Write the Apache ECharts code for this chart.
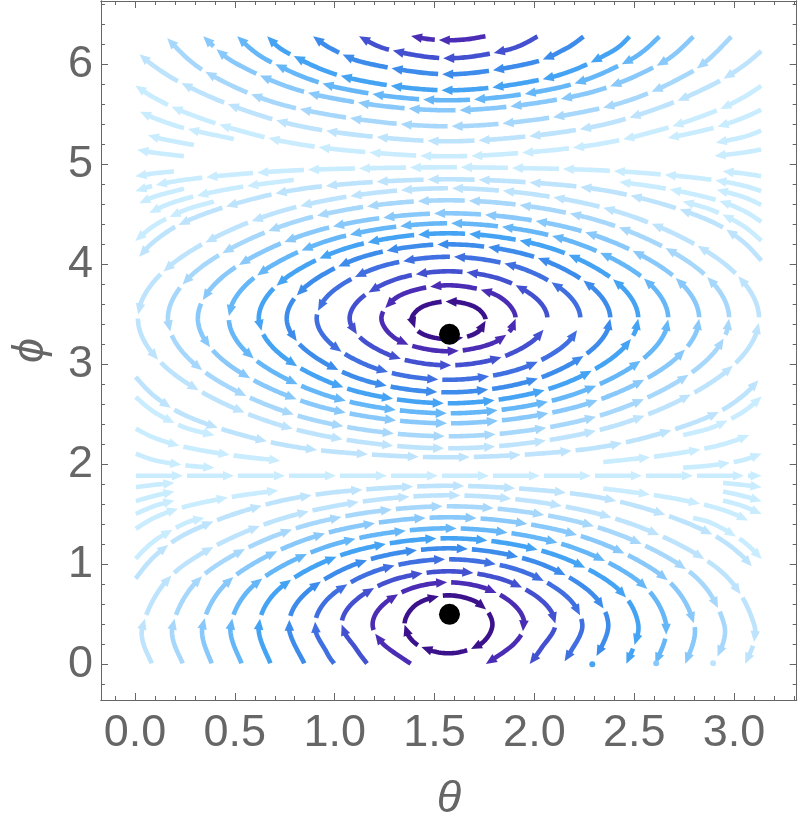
<!DOCTYPE html>
<html><head><meta charset="utf-8">
<script src="https://cdn.jsdelivr.net/npm/echarts@6/dist/echarts.min.js"></script>
<style>html,body{margin:0;padding:0;background:#fff}#c{width:800px;height:828px}</style>
</head><body><div id="c"></div>
<script>
// ---------------- data ----------------
const xTickValues = [0, 0.5, 1, 1.5, 2, 2.5, 3];
const yTickValues = [0, 1, 2, 3, 4, 5, 6];
const fixedPoints = [[1.575, 3.30], [1.575, 0.50]];
const stubPoints = [[2.29, 0.0], [2.61, 0.01], [2.895, 0.01]];
const stubLevels = [5, 7, 9];

// closed orbits around the upper centre (counter-clockwise)
const upperRings = [
 [[1.756,3.44],[1.702,3.574],[1.57,3.63],[1.438,3.574],[1.384,3.44],[1.438,3.306],[1.57,3.25],[1.702,3.306]],
 [[1.906,3.46],[1.808,3.693],[1.57,3.79],[1.332,3.693],[1.234,3.46],[1.332,3.227],[1.57,3.13],[1.808,3.227]],
 [[2.065,3.46],[1.999,3.676],[1.818,3.86],[1.57,3.93],[1.322,3.86],[1.141,3.676],[1.075,3.46],[1.141,3.244],[1.322,3.06],[1.57,2.99],[1.818,3.06],[1.999,3.244]],
 [[2.23,3.46],[2.142,3.743],[1.9,3.983],[1.57,4.075],[1.24,3.983],[0.998,3.743],[0.91,3.46],[0.998,3.177],[1.24,2.937],[1.57,2.845],[1.9,2.937],[2.142,3.177]],
 [[2.38,3.46],[2.271,3.8],[1.975,4.089],[1.57,4.2],[1.165,4.089],[0.869,3.8],[0.76,3.46],[0.869,3.12],[1.165,2.831],[1.57,2.72],[1.975,2.831],[2.271,3.12]],
 [[2.52,3.46],[2.393,3.851],[2.045,4.183],[1.57,4.31],[1.095,4.183],[0.747,3.851],[0.62,3.46],[0.747,3.069],[1.095,2.738],[1.57,2.61],[2.045,2.738],[2.393,3.069]],
 [[2.67,3.46],[2.523,3.897],[2.12,4.268],[1.57,4.41],[1.02,4.268],[0.617,3.897],[0.47,3.46],[0.617,3.023],[1.02,2.653],[1.57,2.51],[2.12,2.653],[2.523,3.023]],
 [[2.825,3.46],[2.657,3.943],[2.198,4.353],[1.57,4.51],[0.943,4.353],[0.483,3.943],[0.315,3.46],[0.483,2.977],[0.943,2.568],[1.57,2.41],[2.198,2.568],[2.657,2.977]],
 [[2.975,3.46],[2.787,4.003],[2.273,4.463],[1.57,4.64],[0.868,4.463],[0.353,4.003],[0.165,3.46],[0.353,2.917],[0.868,2.457],[1.57,2.28],[2.273,2.457],[2.787,2.917]],
 [[3.125,3.46],[2.917,4.058],[2.348,4.565],[1.57,4.76],[0.792,4.565],[0.223,4.058],[0.015,3.46],[0.223,2.862],[0.792,2.355],[1.57,2.16],[2.348,2.355],[2.917,2.862]]
];
const upperRingLevels = [0,1,2,3,4,5,6,7,8,9];

// innermost closed orbit around the lower centre (clockwise)
const lowerCore = [[1.35,0.40],[1.414,0.605],[1.57,0.69],[1.726,0.605],[1.79,0.40],[1.726,0.195],[1.57,0.11],[1.414,0.195]];
const lowerCoreLevel = 0;

// lower orbits cut by phi = 0 (clockwise)
const lowerRings = [
 [[1.385,0],[1.241,0.207],[1.19,0.40],[1.241,0.593],[1.38,0.757],[1.57,0.82],[1.76,0.757],[1.899,0.593],[1.95,0.40],[1.899,0.207],[1.755,0]],
 [[1.165,0],[1.107,0.156],[1.035,0.40],[1.107,0.644],[1.302,0.85],[1.57,0.93],[1.838,0.85],[2.033,0.644],[2.105,0.40],[2.033,0.156],[1.975,0]],
 [[1.0,0],[0.96,0.12],[0.90,0.40],[0.99,0.699],[1.235,0.953],[1.57,1.05],[1.905,0.953],[2.15,0.699],[2.24,0.40],[2.18,0.12],[2.14,0]],
 [[0.85,0],[0.77,0.40],[0.877,0.75],[1.17,1.046],[1.57,1.16],[1.97,1.046],[2.263,0.75],[2.37,0.40],[2.29,0]],
 [[0.68,0],[0.62,0.40],[0.747,0.796],[1.095,1.131],[1.57,1.26],[2.045,1.131],[2.393,0.796],[2.52,0.40],[2.46,0]],
 [[0.535,0],[0.48,0.40],[0.626,0.842],[1.025,1.216],[1.57,1.36],[2.115,1.216],[2.514,0.842],[2.66,0.40],[2.605,0]],
 [[0.385,0],[0.34,0.40],[0.505,0.892],[0.955,1.31],[1.57,1.47],[2.185,1.31],[2.635,0.892],[2.80,0.40],[2.755,0]],
 [[0.24,0],[0.19,0.40],[0.375,0.943],[0.88,1.403],[1.57,1.58],[2.26,1.403],[2.765,0.943],[2.95,0.40],[2.90,0]],
 [[0.085,0],[0.04,0.40],[0.245,0.993],[0.805,1.497],[1.57,1.69],[2.335,1.497],[2.895,0.993],[3.10,0.40],[3.055,0]]
];
const lowerRingLevels = [1,2,3,4,5,6,7,8,9];

// arcs near the top edge, cut by phi = 2*pi (flowing left)
const topArcs = [
 [[1.76,6.283],[1.67,6.252],[1.57,6.24],[1.47,6.252],[1.38,6.283]],
 [[2.02,6.283],[1.87,6.147],[1.57,6.06],[1.27,6.147],[1.12,6.283]],
 [[2.25,6.283],[2.15,6.149],[1.97,6.007],[1.57,5.9],[1.17,6.007],[0.99,6.149],[0.89,6.283]],
 [[2.48,6.283],[2.37,6.108],[2.07,5.864],[1.57,5.74],[1.07,5.864],[0.77,6.108],[0.66,6.283]],
 [[2.63,6.283],[2.47,6.034],[2.12,5.766],[1.57,5.64],[1.02,5.766],[0.67,6.034],[0.51,6.283]],
 [[2.8,6.283],[2.62,5.994],[2.22,5.689],[1.57,5.54],[0.92,5.689],[0.52,5.994],[0.34,6.283]],
 [[2.99,6.283],[2.77,5.905],[2.32,5.555],[1.57,5.38],[0.82,5.555],[0.37,5.905],[0.15,6.283]]
];
const topArcLevels = [1,2,4,5,6,7,8];

// open flows between the edges, upper part (flowing left)
const topFlows = [
 [[3.14,6.14],[3.04,5.976],[2.89,5.794],[2.64,5.576],[2.34,5.394],[1.99,5.285],[1.57,5.23],[1.15,5.285],[0.8,5.394],[0.5,5.576],[0.25,5.794],[0.1,5.976],[0,6.14]],
 [[3.14,5.79],[3.04,5.662],[2.89,5.52],[2.64,5.35],[2.34,5.208],[1.99,5.123],[1.57,5.08],[1.15,5.123],[0.8,5.208],[0.5,5.35],[0.25,5.52],[0.1,5.662],[0,5.79]],
 [[0.5,5.25],[0.25,5.36],[0.1,5.46],[0,5.55]],
 [[3.14,5.55],[3.04,5.46],[2.89,5.36],[2.64,5.25]],
 [[0.3,5.19],[0.1,5.27],[0,5.34]],
 [[3.14,5.34],[3.04,5.27],[2.84,5.19]],
 [[0.25,5.08],[0.1,5.115],[0,5.15]],
 [[3.14,5.15],[3.04,5.115],[2.89,5.08]],
 [[3.14,4.03],[3.04,4.235],[2.89,4.424],[2.64,4.604],[2.34,4.743],[1.99,4.817],[1.57,4.85],[1.15,4.817],[0.8,4.743],[0.5,4.604],[0.25,4.424],[0.1,4.235],[0,4.03]],
 [[3.14,4.73],[3.04,4.79],[2.89,4.845],[2.64,4.898],[2.34,4.939],[1.99,4.96],[1.57,4.97],[1.15,4.96],[0.8,4.939],[0.5,4.898],[0.25,4.845],[0.1,4.79],[0,4.73]],
 [[0.8,4.846],[0.5,4.763],[0.25,4.655],[0.1,4.543],[0,4.42]],
 [[3.14,4.42],[3.04,4.543],[2.89,4.655],[2.64,4.763],[2.34,4.846]],
 [[0.4,4.63],[0.25,4.542],[0.1,4.392],[0,4.23]],
 [[3.14,4.23],[3.04,4.392],[2.89,4.542],[2.74,4.63]],
 [[0.25,4.758],[0.1,4.678],[0,4.59]],
 [[3.14,4.59],[3.04,4.678],[2.89,4.758]],
 [[0.2,4.93],[0.1,4.91],[0,4.88]],
 [[3.14,4.88],[3.04,4.91],[2.94,4.93]]
];
const topFlowLevels = [9,10,10,10,10,10,10,10,9,10,10,10,10,10,10,10,10,10];

// open flows between the edges, middle/lower part (flowing right)
const midFlows = [
 [[0,2.88],[0.1,2.678],[0.25,2.491],[0.5,2.313],[0.8,2.175],[1.15,2.102],[1.57,2.07],[1.99,2.102],[2.34,2.175],[2.64,2.313],[2.89,2.491],[3.04,2.678],[3.14,2.88]],
 [[0,2.68],[0.1,2.518],[0.25,2.368],[0.4,2.29]],
 [[2.74,2.29],[2.89,2.368],[3.04,2.518],[3.14,2.68]],
 [[0,2.36],[0.1,2.263],[0.25,2.173],[0.5,2.087],[0.8,2.021]],
 [[2.34,2.021],[2.64,2.087],[2.89,2.173],[3.04,2.263],[3.14,2.36]],
 [[0,2.11],[0.1,2.04],[0.25,1.99],[0.4,1.965]],
 [[2.74,1.965],[2.89,1.99],[3.04,2.04],[3.14,2.11]],
 [[0,1.885],[3.14,1.885]],
 [[0,0.85],[0.1,1.084],[0.25,1.299],[0.5,1.505],[0.8,1.663],[1.15,1.748],[1.57,1.785],[1.99,1.748],[2.34,1.663],[2.64,1.505],[2.89,1.299],[3.04,1.084],[3.14,0.85]],
 [[0,1.05],[0.1,1.238],[0.25,1.41],[0.35,1.465]],
 [[2.79,1.465],[2.89,1.41],[3.04,1.238],[3.14,1.05]],
 [[0,1.35],[0.1,1.468],[0.25,1.576],[0.5,1.679],[0.8,1.759]],
 [[2.34,1.759],[2.64,1.679],[2.89,1.576],[3.04,1.468],[3.14,1.35]],
 [[0,1.5],[0.1,1.585],[0.2,1.64]],
 [[2.94,1.64],[3.04,1.585],[3.14,1.5]],
 [[0,1.63],[0.1,1.686],[0.2,1.73]],
 [[2.94,1.73],[3.04,1.686],[3.14,1.63]],
 [[0,1.77],[0.1,1.795],[0.2,1.815]],
 [[2.94,1.815],[3.04,1.795],[3.14,1.77]]
];
const midFlowLevels = [9,10,10,10,10,10,10,10,9,10,10,10,10,10,10,10,10,10,10];

// ---------------- styling ----------------
const palette = ['#3b128c','#4a2db4','#4350cf','#3f6fe0','#3d8cec','#45a3f4','#66b7f8','#88c8fa','#a7d8fc','#bde3fd','#c9ecff'];
const AX = '#666666';
const FONT = '"Liberation Sans", Arial, sans-serif';

const streams = [];
upperRings.forEach((p,i)=>streams.push({pts:p, closed:true, lvl:upperRingLevels[i]}));
streams.push({pts:lowerCore, closed:true, lvl:lowerCoreLevel});
lowerRings.forEach((p,i)=>streams.push({pts:p, closed:false, lvl:lowerRingLevels[i]}));
topArcs.forEach((p,i)=>streams.push({pts:p, closed:false, lvl:topArcLevels[i]}));
topFlows.forEach((p,i)=>streams.push({pts:p, closed:false, lvl:topFlowLevels[i]}));
midFlows.forEach((p,i)=>streams.push({pts:p, closed:false, lvl:midFlowLevels[i]}));

function smoothPath(pts, closed){
  const n = pts.length, out = [];
  const get = i => closed ? pts[(i % n + n) % n] : pts[Math.max(0, Math.min(n - 1, i))];
  const segs = closed ? n : n - 1;
  for (let i = 0; i < segs; i++){
    const p0 = get(i-1), p1 = get(i), p2 = get(i+1), p3 = get(i+2);
    const d = Math.hypot(p2[0]-p1[0], p2[1]-p1[1]);
    const K = Math.max(2, Math.ceil(d / 2));
    for (let k = 0; k < K; k++){
      const t = k / K, t2 = t*t, t3 = t2*t;
      const c = j => 0.5*((2*p1[j]) + (-p0[j]+p2[j])*t + (2*p0[j]-5*p1[j]+4*p2[j]-p3[j])*t2 + (-p0[j]+3*p1[j]-3*p2[j]+p3[j])*t3);
      out.push([c(0), c(1)]);
    }
  }
  out.push((closed ? pts[0] : pts[n-1]).slice());
  return out;
}

function arrows(path, color){
  const cum = [0];
  for (let i = 1; i < path.length; i++) cum.push(cum[i-1] + Math.hypot(path[i][0]-path[i-1][0], path[i][1]-path[i-1][1]));
  const total = cum[cum.length-1];
  const at = s => {
    let lo = 0, hi = cum.length - 1;
    while (hi - lo > 1){ const m = (lo+hi) >> 1; if (cum[m] <= s) lo = m; else hi = m; }
    const seg = cum[hi] - cum[lo] || 1, f = (s - cum[lo]) / seg;
    return [path[lo][0] + (path[hi][0]-path[lo][0])*f, path[lo][1] + (path[hi][1]-path[lo][1])*f];
  };
  const slice = (a, b) => {
    const r = [at(a)];
    for (let i = 0; i < cum.length; i++) if (cum[i] > a && cum[i] < b) r.push(path[i]);
    r.push(at(b));
    return r;
  };
  const L = 47, G = 4, H = 11, HW = 4.8, LW = 4.6;
  const ch = [];
  let s = 1;
  while (total - s > 14){
    const e = Math.min(s + L, total - 0.5);
    const tip = at(e), back = at(Math.max(s, e - H));
    let dx = tip[0]-back[0], dy = tip[1]-back[1];
    const len = Math.hypot(dx, dy) || 1; dx /= len; dy /= len;
    const b = [tip[0]-dx*H, tip[1]-dy*H];
    ch.push({type:'polyline', silent:true, shape:{points: slice(s, e - H + 1.5)},
      style:{stroke:color, lineWidth:LW, fill:null, lineCap:'butt', lineJoin:'round'}});
    ch.push({type:'polygon', silent:true, shape:{points:[tip, [b[0]-dy*HW, b[1]+dx*HW], [b[0]+dy*HW, b[1]-dx*HW]]},
      style:{fill:color}});
    s = e + G;
  }
  return ch;
}

function renderStream(params, api){
  const st = streams[api.value(2)];
  const px = st.pts.map(p => api.coord(p));
  return {type:'group', children: arrows(smoothPath(px, st.closed), palette[st.lvl])};
}

const minorX = []; for (let k = -1; k <= 33; k++) minorX.push(+(k/10).toFixed(1));
const minorY = []; for (let k = -1; k <= 33; k++) minorY.push(+(k/5).toFixed(1));

const XMIN = -0.17, XMAX = 3.3135, YMIN = -0.357, YMAX = 6.633;
function xa(pos, ticks, len, labels){
  return {type:'value', position:pos, min:XMIN, max:XMAX, splitLine:{show:false},
    axisLine:{show:true, onZero:false, lineStyle:{color:AX, width:1}},
    axisTick:{show:true, inside:true, length:len, customValues:ticks, lineStyle:{color:AX, width:1}},
    axisLabel: labels ? {show:true, customValues:xTickValues, formatter:v=>Number(v).toFixed(1), fontSize:45, color:AX, fontFamily:FONT, margin:11} : {show:false}};
}
function ya(pos, ticks, len, labels){
  return {type:'value', position:pos, min:YMIN, max:YMAX, splitLine:{show:false},
    axisLine:{show:true, onZero:false, lineStyle:{color:AX, width:1}},
    axisTick:{show:true, inside:true, length:len, customValues:ticks, lineStyle:{color:AX, width:1}},
    axisLabel: labels ? {show:true, customValues:yTickValues, formatter:v=>String(Math.round(v)), fontSize:45, color:AX, fontFamily:FONT, margin:8} : {show:false}};
}

const xAxes = [xa('bottom', xTickValues, 7, true), xa('bottom', minorX, 4, false), xa('top', xTickValues, 7, false), xa('top', minorX, 4, false)];
xAxes[0].name = 'θ'; xAxes[0].nameLocation = 'middle'; xAxes[0].nameGap = 77;
xAxes[0].nameTextStyle = {fontSize:45, fontStyle:'italic', color:AX, fontFamily:FONT};
const yAxes = [ya('left', yTickValues, 7, true), ya('left', minorY, 4, false), ya('right', yTickValues, 7, false), ya('right', minorY, 4, false)];
yAxes[0].name = 'ϕ'; yAxes[0].nameLocation = 'middle'; yAxes[0].nameGap = 48;
yAxes[0].nameTextStyle = {fontSize:45, fontStyle:'italic', color:AX, fontFamily:FONT};

const chart = echarts.init(document.getElementById('c'), null, {renderer:'canvas'});
chart.setOption({
  animation:false,
  backgroundColor:'#ffffff',
  grid:{left:100, right:3.3, top:1, bottom:128, containLabel:false},
  xAxis:xAxes, yAxis:yAxes,
  series:[
    {type:'custom', xAxisIndex:0, yAxisIndex:0, renderItem:renderStream, clip:true,
     encode:{x:0, y:1}, data: streams.map((s,i)=>[s.pts[0][0], s.pts[0][1], i]), z:2},
    {type:'scatter', xAxisIndex:0, yAxisIndex:0, symbol:'circle', symbolSize:6, silent:true, z:3,
     data: stubPoints.map((p,i)=>({value:p, itemStyle:{color:palette[stubLevels[i]], opacity:1}}))},
    {type:'scatter', xAxisIndex:0, yAxisIndex:0, symbol:'circle', symbolSize:21, silent:true, z:4,
     itemStyle:{color:'#000000', opacity:1}, data: fixedPoints}
  ]
});
</script>
</body></html>
